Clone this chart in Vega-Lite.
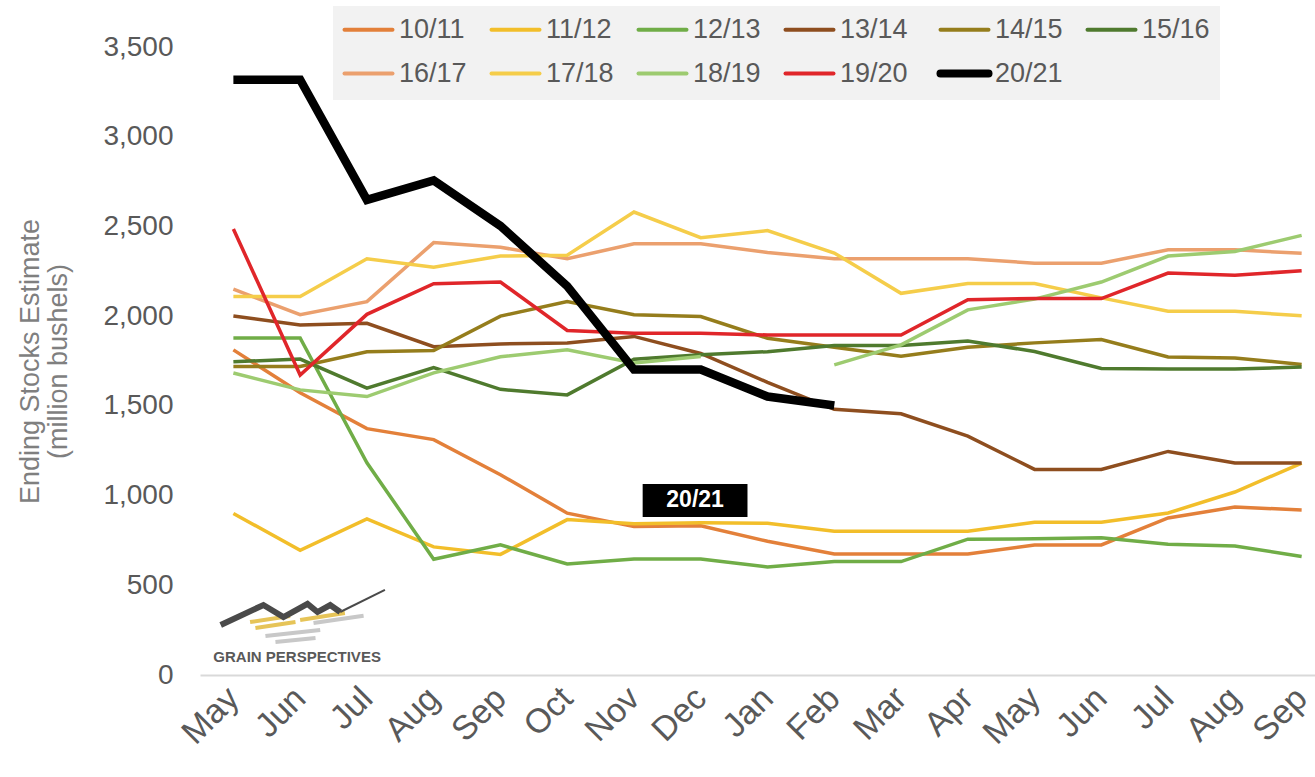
{
  "$schema": "https://vega.github.io/schema/vega-lite/v6.json",
  "width": 1115,
  "height": 628,
  "autosize": {"type": "none"},
  "padding": {"left": 200, "top": 47, "right": 0, "bottom": 102},
  "background": "white",
  "config": {"view": {"stroke": null}, "font": "Liberation Sans"},
  "datasets": {
    "series": [
      {"season":"10/11","i":0,"v":1812,"seg":1},{"season":"10/11","i":1,"v":1573,"seg":1},{"season":"10/11","i":2,"v":1373,"seg":1},{"season":"10/11","i":3,"v":1312,"seg":1},{"season":"10/11","i":4,"v":1116,"seg":1},{"season":"10/11","i":5,"v":902,"seg":1},{"season":"10/11","i":6,"v":827,"seg":1},{"season":"10/11","i":7,"v":832,"seg":1},{"season":"10/11","i":8,"v":745,"seg":1},{"season":"10/11","i":9,"v":675,"seg":1},{"season":"10/11","i":10,"v":675,"seg":1},{"season":"10/11","i":11,"v":675,"seg":1},{"season":"10/11","i":12,"v":725,"seg":1},{"season":"10/11","i":13,"v":725,"seg":1},{"season":"10/11","i":14,"v":875,"seg":1},{"season":"10/11","i":15,"v":936,"seg":1},{"season":"10/11","i":16,"v":920,"seg":1},
      {"season":"11/12","i":0,"v":900,"seg":1},{"season":"11/12","i":1,"v":695,"seg":1},{"season":"11/12","i":2,"v":870,"seg":1},{"season":"11/12","i":3,"v":714,"seg":1},{"season":"11/12","i":4,"v":672,"seg":1},{"season":"11/12","i":5,"v":866,"seg":1},{"season":"11/12","i":6,"v":843,"seg":1},{"season":"11/12","i":7,"v":848,"seg":1},{"season":"11/12","i":8,"v":846,"seg":1},{"season":"11/12","i":9,"v":801,"seg":1},{"season":"11/12","i":10,"v":801,"seg":1},{"season":"11/12","i":11,"v":801,"seg":1},{"season":"11/12","i":12,"v":851,"seg":1},{"season":"11/12","i":13,"v":851,"seg":1},{"season":"11/12","i":14,"v":903,"seg":1},{"season":"11/12","i":15,"v":1020,"seg":1},{"season":"11/12","i":16,"v":1181,"seg":1},
      {"season":"12/13","i":0,"v":1878,"seg":1},{"season":"12/13","i":1,"v":1878,"seg":1},{"season":"12/13","i":2,"v":1183,"seg":1},{"season":"12/13","i":3,"v":645,"seg":1},{"season":"12/13","i":4,"v":725,"seg":1},{"season":"12/13","i":5,"v":619,"seg":1},{"season":"12/13","i":6,"v":647,"seg":1},{"season":"12/13","i":7,"v":647,"seg":1},{"season":"12/13","i":8,"v":602,"seg":1},{"season":"12/13","i":9,"v":632,"seg":1},{"season":"12/13","i":10,"v":632,"seg":1},{"season":"12/13","i":11,"v":757,"seg":1},{"season":"12/13","i":12,"v":759,"seg":1},{"season":"12/13","i":13,"v":765,"seg":1},{"season":"12/13","i":14,"v":729,"seg":1},{"season":"12/13","i":15,"v":719,"seg":1},{"season":"12/13","i":16,"v":661,"seg":1},
      {"season":"13/14","i":0,"v":2001,"seg":1},{"season":"13/14","i":1,"v":1951,"seg":1},{"season":"13/14","i":2,"v":1960,"seg":1},{"season":"13/14","i":3,"v":1830,"seg":1},{"season":"13/14","i":4,"v":1845,"seg":1},{"season":"13/14","i":5,"v":1851,"seg":1},{"season":"13/14","i":6,"v":1887,"seg":1},{"season":"13/14","i":7,"v":1792,"seg":1},{"season":"13/14","i":8,"v":1631,"seg":1},{"season":"13/14","i":9,"v":1481,"seg":1},{"season":"13/14","i":10,"v":1456,"seg":1},{"season":"13/14","i":11,"v":1331,"seg":1},{"season":"13/14","i":12,"v":1146,"seg":1},{"season":"13/14","i":13,"v":1146,"seg":1},{"season":"13/14","i":14,"v":1246,"seg":1},{"season":"13/14","i":15,"v":1181,"seg":1},{"season":"13/14","i":16,"v":1181,"seg":1},
      {"season":"14/15","i":0,"v":1720,"seg":1},{"season":"14/15","i":1,"v":1720,"seg":1},{"season":"14/15","i":2,"v":1801,"seg":1},{"season":"14/15","i":3,"v":1808,"seg":1},{"season":"14/15","i":4,"v":2000,"seg":1},{"season":"14/15","i":5,"v":2081,"seg":1},{"season":"14/15","i":6,"v":2008,"seg":1},{"season":"14/15","i":7,"v":1998,"seg":1},{"season":"14/15","i":8,"v":1877,"seg":1},{"season":"14/15","i":9,"v":1827,"seg":1},{"season":"14/15","i":10,"v":1777,"seg":1},{"season":"14/15","i":11,"v":1827,"seg":1},{"season":"14/15","i":12,"v":1851,"seg":1},{"season":"14/15","i":13,"v":1870,"seg":1},{"season":"14/15","i":14,"v":1772,"seg":1},{"season":"14/15","i":15,"v":1767,"seg":1},{"season":"14/15","i":16,"v":1731,"seg":1},
      {"season":"15/16","i":0,"v":1746,"seg":1},{"season":"15/16","i":1,"v":1761,"seg":1},{"season":"15/16","i":2,"v":1599,"seg":1},{"season":"15/16","i":3,"v":1713,"seg":1},{"season":"15/16","i":4,"v":1592,"seg":1},{"season":"15/16","i":5,"v":1561,"seg":1},{"season":"15/16","i":6,"v":1760,"seg":1},{"season":"15/16","i":7,"v":1785,"seg":1},{"season":"15/16","i":8,"v":1802,"seg":1},{"season":"15/16","i":9,"v":1837,"seg":1},{"season":"15/16","i":10,"v":1837,"seg":1},{"season":"15/16","i":11,"v":1862,"seg":1},{"season":"15/16","i":12,"v":1803,"seg":1},{"season":"15/16","i":13,"v":1708,"seg":1},{"season":"15/16","i":14,"v":1706,"seg":1},{"season":"15/16","i":15,"v":1706,"seg":1},{"season":"15/16","i":16,"v":1716,"seg":1},
      {"season":"16/17","i":0,"v":2150,"seg":1},{"season":"16/17","i":1,"v":2008,"seg":1},{"season":"16/17","i":2,"v":2081,"seg":1},{"season":"16/17","i":3,"v":2410,"seg":1},{"season":"16/17","i":4,"v":2384,"seg":1},{"season":"16/17","i":5,"v":2320,"seg":1},{"season":"16/17","i":6,"v":2403,"seg":1},{"season":"16/17","i":7,"v":2403,"seg":1},{"season":"16/17","i":8,"v":2355,"seg":1},{"season":"16/17","i":9,"v":2320,"seg":1},{"season":"16/17","i":10,"v":2320,"seg":1},{"season":"16/17","i":11,"v":2320,"seg":1},{"season":"16/17","i":12,"v":2295,"seg":1},{"season":"16/17","i":13,"v":2295,"seg":1},{"season":"16/17","i":14,"v":2370,"seg":1},{"season":"16/17","i":15,"v":2370,"seg":1},{"season":"16/17","i":16,"v":2350,"seg":1},
      {"season":"17/18","i":0,"v":2110,"seg":1},{"season":"17/18","i":1,"v":2110,"seg":1},{"season":"17/18","i":2,"v":2320,"seg":1},{"season":"17/18","i":3,"v":2273,"seg":1},{"season":"17/18","i":4,"v":2335,"seg":1},{"season":"17/18","i":5,"v":2340,"seg":1},{"season":"17/18","i":6,"v":2580,"seg":1},{"season":"17/18","i":7,"v":2437,"seg":1},{"season":"17/18","i":8,"v":2477,"seg":1},{"season":"17/18","i":9,"v":2352,"seg":1},{"season":"17/18","i":10,"v":2127,"seg":1},{"season":"17/18","i":11,"v":2182,"seg":1},{"season":"17/18","i":12,"v":2182,"seg":1},{"season":"17/18","i":13,"v":2102,"seg":1},{"season":"17/18","i":14,"v":2027,"seg":1},{"season":"17/18","i":15,"v":2027,"seg":1},{"season":"17/18","i":16,"v":2002,"seg":1},
      {"season":"18/19","i":0,"v":1683,"seg":1},{"season":"18/19","i":1,"v":1589,"seg":1},{"season":"18/19","i":2,"v":1552,"seg":1},{"season":"18/19","i":3,"v":1684,"seg":1},{"season":"18/19","i":4,"v":1774,"seg":1},{"season":"18/19","i":5,"v":1813,"seg":1},{"season":"18/19","i":6,"v":1739,"seg":1},{"season":"18/19","i":7,"v":1775,"seg":1},{"season":"18/19","i":9,"v":1728,"seg":2},{"season":"18/19","i":10,"v":1840,"seg":2},{"season":"18/19","i":11,"v":2035,"seg":2},{"season":"18/19","i":12,"v":2095,"seg":2},{"season":"18/19","i":13,"v":2190,"seg":2},{"season":"18/19","i":14,"v":2335,"seg":2},{"season":"18/19","i":15,"v":2360,"seg":2},{"season":"18/19","i":16,"v":2450,"seg":2},
      {"season":"19/20","i":0,"v":2486,"seg":1},{"season":"19/20","i":1,"v":1672,"seg":1},{"season":"19/20","i":2,"v":2010,"seg":1},{"season":"19/20","i":3,"v":2181,"seg":1},{"season":"19/20","i":4,"v":2190,"seg":1},{"season":"19/20","i":5,"v":1920,"seg":1},{"season":"19/20","i":6,"v":1905,"seg":1},{"season":"19/20","i":7,"v":1905,"seg":1},{"season":"19/20","i":8,"v":1895,"seg":1},{"season":"19/20","i":9,"v":1895,"seg":1},{"season":"19/20","i":10,"v":1895,"seg":1},{"season":"19/20","i":11,"v":2092,"seg":1},{"season":"19/20","i":12,"v":2098,"seg":1},{"season":"19/20","i":13,"v":2098,"seg":1},{"season":"19/20","i":14,"v":2240,"seg":1},{"season":"19/20","i":15,"v":2228,"seg":1},{"season":"19/20","i":16,"v":2253,"seg":1},
      {"season":"20/21","i":0,"v":3318,"seg":1},{"season":"20/21","i":1,"v":3318,"seg":1},{"season":"20/21","i":2,"v":2648,"seg":1},{"season":"20/21","i":3,"v":2756,"seg":1},{"season":"20/21","i":4,"v":2503,"seg":1},{"season":"20/21","i":5,"v":2167,"seg":1},{"season":"20/21","i":6,"v":1702,"seg":1},{"season":"20/21","i":7,"v":1702,"seg":1},{"season":"20/21","i":8,"v":1552,"seg":1},{"season":"20/21","i":9,"v":1502,"seg":1}
    ],
    "logo": [
      {"part":"zig","o":0,"lx":-0.19,"ly":279},{"part":"zig","o":1,"lx":0.45,"ly":390},{"part":"zig","o":2,"lx":0.75,"ly":323},{"part":"zig","o":3,"lx":1.11,"ly":396},{"part":"zig","o":4,"lx":1.26,"ly":351},{"part":"zig","o":5,"lx":1.45,"ly":390},{"part":"zig","o":6,"lx":1.6,"ly":351}
    ],
    "tail": [
      {"part":"tail","o":0,"lx":1.6,"ly":351},{"part":"tail","o":1,"lx":2.27,"ly":474}
    ],
    "stripes": [
      {"part":"a","col":"y","o":0,"lx":0.25,"ly":295},{"part":"a","col":"y","o":1,"lx":0.85,"ly":329},
      {"part":"b","col":"y","o":0,"lx":0.33,"ly":262},{"part":"b","col":"y","o":1,"lx":0.93,"ly":295},
      {"part":"c","col":"y","o":0,"lx":1.0,"ly":307},{"part":"c","col":"y","o":1,"lx":1.67,"ly":346},
      {"part":"d","col":"g","o":0,"lx":0.48,"ly":217},{"part":"d","col":"g","o":1,"lx":1.3,"ly":251},
      {"part":"e","col":"g","o":0,"lx":0.63,"ly":184},{"part":"e","col":"g","o":1,"lx":1.23,"ly":206},
      {"part":"f","col":"g","o":0,"lx":1.2,"ly":290},{"part":"f","col":"g","o":1,"lx":1.95,"ly":330}
    ]
  },
  "layer": [
    {
      "data": {"name": "series"},
      "mark": {"type": "line", "strokeCap": "butt", "strokeJoin": "miter"},
      "encoding": {
        "x": {
          "field": "i", "type": "quantitative",
          "scale": {"domain": [-0.5, 16.2], "nice": false, "zero": false},
          "axis": {
            "title": null, "values": [0,1,2,3,4,5,6,7,8,9,10,11,12,13,14,15,16],
            "labelExpr": "['May','Jun','Jul','Aug','Sep','Oct','Nov','Dec','Jan','Feb','Mar','Apr','May','Jun','Jul','Aug','Sep'][datum.value]",
            "labelAngle": -45, "labelAlign": "right", "labelBaseline": "middle",
            "labelFontSize": 34, "labelColor": "#595959", "labelPadding": 18,
            "labelFont": "Liberation Sans", "labelOverlap": false,
            "ticks": false, "grid": false, "domainColor": "#D9D9D9", "domainWidth": 2
          }
        },
        "y": {
          "field": "v", "type": "quantitative",
          "scale": {"domain": [0, 3500], "nice": false},
          "axis": {
            "title": ["Ending Stocks Estimate", "(million bushels)"],
            "titleFontSize": 27, "titleFontWeight": "normal", "titleColor": "#7F7F7F",
            "titleFont": "Liberation Sans", "titlePadding": 30, "titleLineHeight": 28,
            "values": [0,500,1000,1500,2000,2500,3000,3500], "format": ",d",
            "labelFontSize": 28, "labelColor": "#595959", "labelPadding": 27,
            "labelFont": "Liberation Sans",
            "ticks": false, "grid": false, "domain": false
          }
        },
        "color": {
          "field": "season", "type": "nominal",
          "scale": {
            "domain": ["10/11","11/12","12/13","13/14","14/15","15/16","16/17","17/18","18/19","19/20","20/21"],
            "range": ["#E3803A","#F2BE2A","#70AD47","#8E4E1F","#957D1C","#4F7A2E","#EBA06E","#F5CD4A","#9DCB70","#E0262A","#000000"]
          },
          "legend": {
            "title": null, "orient": "none", "legendX": 133, "legendY": -41,
            "direction": "horizontal", "columns": 6, "columnPadding": 16, "rowPadding": 14,
            "fillColor": "#F2F2F2", "padding": 10,
            "symbolType": "M-1,0H3", "symbolSize": 576, "symbolStrokeWidth": 4,
            "labelFontSize": 27, "labelColor": "#595959", "labelFont": "Liberation Sans",
            "labelOffset": 29, "labelLimit": 200,
            "encode": {
              "symbols": {
                "update": {
                  "strokeWidth": {"signal": "datum.value === '20/21' ? 8 : 4"},
                  "strokeCap": {"value": "round"}
                }
              }
            }
          }
        },
        "strokeWidth": {
          "condition": {"test": "datum.season === '20/21'", "value": 8.5},
          "value": 3.5
        },
        "detail": {"field": "seg", "type": "nominal"},
        "order": {"field": "i", "type": "quantitative"}
      }
    },
    {
      "data": {"values": [{"x1": 6.13, "x2": 7.70, "y1": 881, "y2": 1065, "xc": 6.915, "yc": 973, "t": "20/21"}]},
      "layer": [
        {
          "mark": {"type": "rect", "color": "#000000"},
          "encoding": {
            "x": {"field": "x1", "type": "quantitative"},
            "x2": {"field": "x2"},
            "y": {"field": "y1", "type": "quantitative"},
            "y2": {"field": "y2"}
          }
        },
        {
          "mark": {"type": "text", "color": "#FFFFFF", "fontSize": 23, "fontWeight": "bold", "font": "Liberation Sans", "align": "center", "baseline": "middle"},
          "encoding": {
            "x": {"field": "xc", "type": "quantitative"},
            "y": {"field": "yc", "type": "quantitative"},
            "text": {"field": "t"}
          }
        }
      ]
    },
    {
      "data": {"name": "stripes"},
      "mark": {"type": "line", "strokeWidth": 4, "strokeCap": "butt"},
      "encoding": {
        "x": {"field": "lx", "type": "quantitative"},
        "y": {"field": "ly", "type": "quantitative"},
        "detail": {"field": "part", "type": "nominal"},
        "order": {"field": "o", "type": "quantitative"},
        "stroke": {"field": "col", "type": "nominal", "scale": {"domain": ["y","g"], "range": ["#E6C458","#C8C8C8"]}, "legend": null}
      }
    },
    {
      "data": {"name": "logo"},
      "mark": {"type": "line", "strokeWidth": 6, "color": "#4A4A4A", "strokeJoin": "miter"},
      "encoding": {
        "x": {"field": "lx", "type": "quantitative"},
        "y": {"field": "ly", "type": "quantitative"},
        "order": {"field": "o", "type": "quantitative"}
      }
    },
    {
      "data": {"name": "tail"},
      "mark": {"type": "line", "strokeWidth": 2, "color": "#4A4A4A"},
      "encoding": {
        "x": {"field": "lx", "type": "quantitative"},
        "y": {"field": "ly", "type": "quantitative"},
        "order": {"field": "o", "type": "quantitative"}
      }
    },
    {
      "data": {"values": [{"lx": -0.3, "ly": 72, "t": "GRAIN PERSPECTIVES"}]},
      "mark": {"type": "text", "fontSize": 15, "fontWeight": "bold", "color": "#595959", "font": "Liberation Sans", "align": "left", "baseline": "alphabetic"},
      "encoding": {
        "x": {"field": "lx", "type": "quantitative"},
        "y": {"field": "ly", "type": "quantitative"},
        "text": {"field": "t"}
      }
    }
  ]
}
